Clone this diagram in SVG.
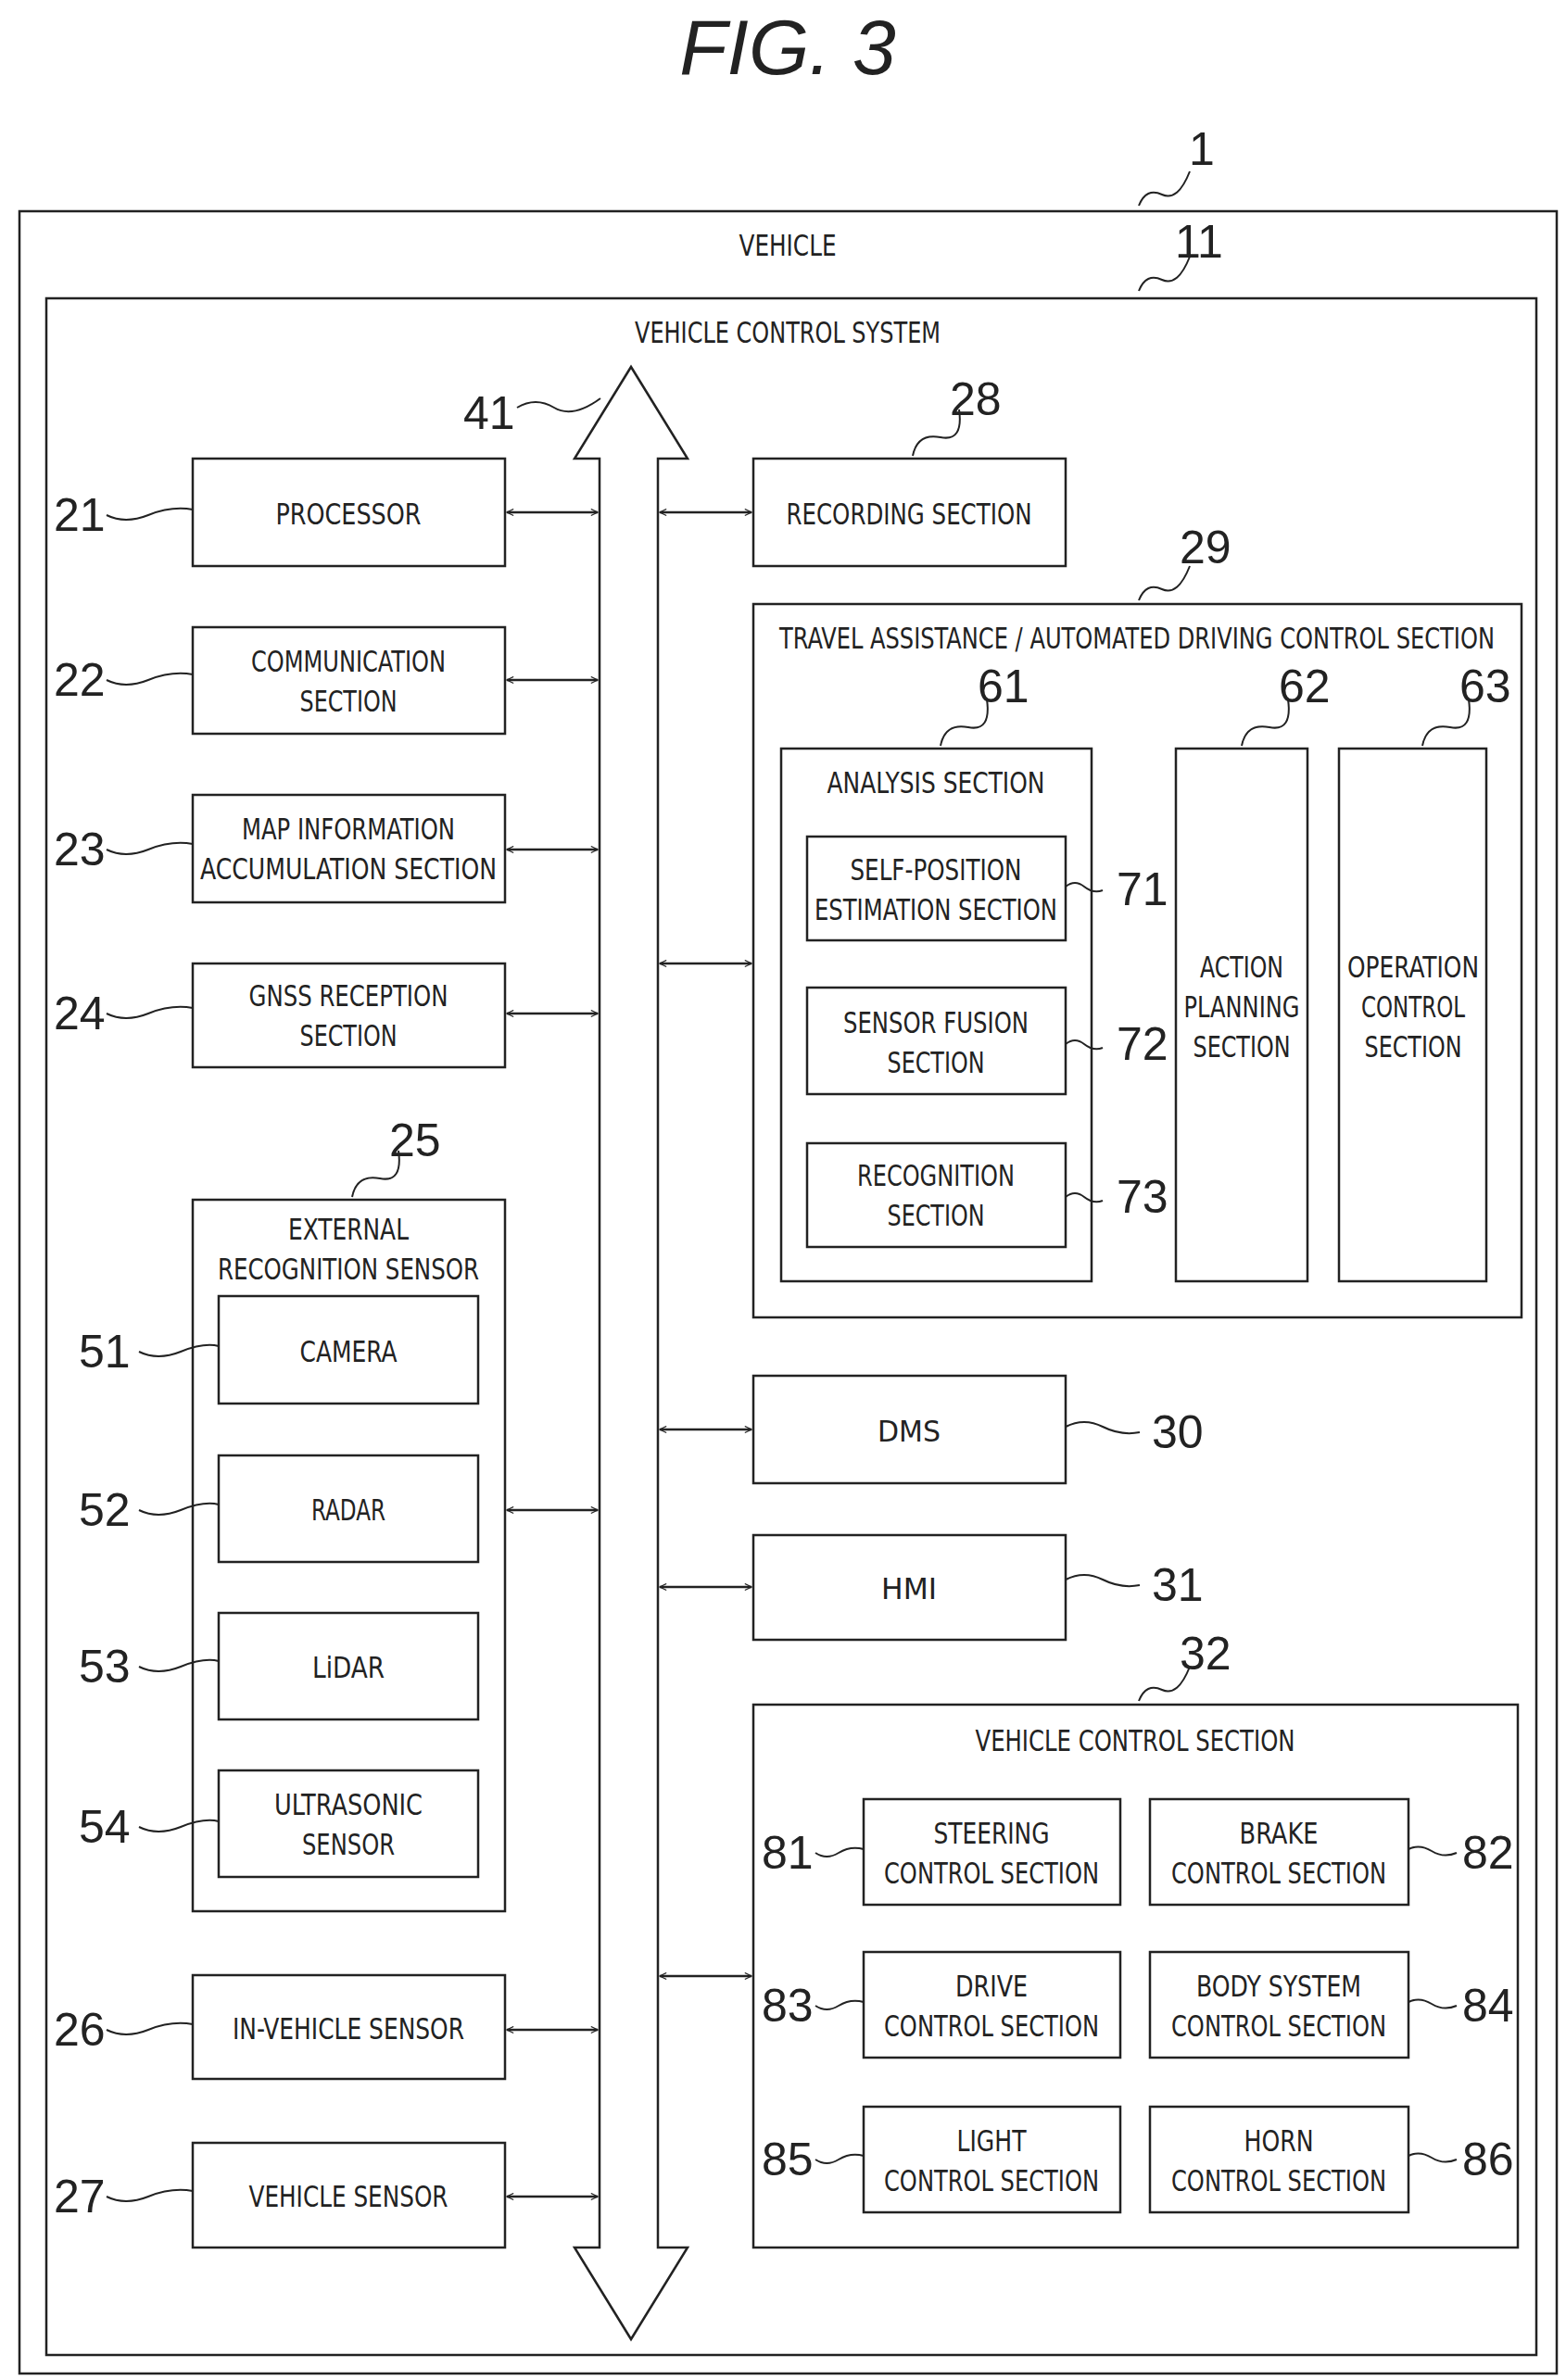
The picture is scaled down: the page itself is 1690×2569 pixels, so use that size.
<svg xmlns="http://www.w3.org/2000/svg" width="1690" height="2569" viewBox="0 0 1690 2569">
<style>
rect{fill:none;stroke:#222;stroke-width:2.5}
.t{font-family:"DejaVu Sans Condensed","DejaVu Sans",sans-serif;font-stretch:condensed;font-size:32px;fill:#222;text-anchor:middle}
.n{font-family:"Liberation Sans",sans-serif;font-size:50px;fill:#222}
.s{fill:none;stroke:#222;stroke-width:2}
.a{fill:none;stroke:#222;stroke-width:2.5;marker-start:url(#h);marker-end:url(#h)}
</style>
<defs><marker id="h" viewBox="0 0 20 20" refX="18" refY="10" markerWidth="9" markerHeight="9" markerUnits="userSpaceOnUse" orient="auto-start-reverse"><path d="M2 2 L18 10 L2 18" fill="none" stroke="#222" stroke-width="2.5"/></marker></defs>
<rect width="1690" height="2569" style="fill:#fff;stroke:none"/>
<text x="850" y="80" style="font-family:'Liberation Sans',sans-serif;font-size:84px;font-style:italic;fill:#222;text-anchor:middle">FIG. 3</text>
<g id="vehicle"><rect x="21" y="228" width="1659" height="2334"/><text class="t" x="850" y="276" textLength="105" lengthAdjust="spacingAndGlyphs">VEHICLE</text>
<path class="s" d="M1229 222 q8-20 25-12 t30-25"/><text class="n" x="1283" y="178">1</text></g>
<g id="vcs"><rect x="50" y="322" width="1608" height="2220"/><text class="t" x="850" y="370" textLength="330" lengthAdjust="spacingAndGlyphs">VEHICLE CONTROL SYSTEM</text>
<path class="s" d="M1229 314 q8-20 25-12 t30-25"/><text class="n" x="1268" y="278">11</text></g>
<g id="bus41"><path d="M647 495 L620 495 L681 396 L742 495 L710 495 L710 2426 L742 2426 L681 2525 L620 2426 L647 2426 Z" fill="#fff" stroke="#222" stroke-width="2.5"/>
<path class="s" d="M558 440 q20-12 40 0 t50-10"/><text class="n" x="500" y="463">41</text></g>
<g id="n21"><rect x="208" y="495" width="337" height="116"/><text class="t" x="376" y="566" textLength="157" lengthAdjust="spacingAndGlyphs">PROCESSOR</text><path class="s" d="M115 556 q20 10 45 0 t48-6"/><text class="n" x="58" y="573">21</text></g>
<g id="n22"><rect x="208" y="677" width="337" height="115"/><text class="t" x="376" y="725" textLength="210" lengthAdjust="spacingAndGlyphs">COMMUNICATION</text><text class="t" x="376" y="768" textLength="105" lengthAdjust="spacingAndGlyphs">SECTION</text><path class="s" d="M115 734 q20 10 45 0 t48-6"/><text class="n" x="58" y="751">22</text></g>
<g id="n23"><rect x="208" y="858" width="337" height="116"/><text class="t" x="376" y="906" textLength="230" lengthAdjust="spacingAndGlyphs">MAP INFORMATION</text><text class="t" x="376" y="949" textLength="320" lengthAdjust="spacingAndGlyphs">ACCUMULATION SECTION</text><path class="s" d="M115 917 q20 10 45 0 t48-6"/><text class="n" x="58" y="934">23</text></g>
<g id="n24"><rect x="208" y="1040" width="337" height="112"/><text class="t" x="376" y="1086" textLength="215" lengthAdjust="spacingAndGlyphs">GNSS RECEPTION</text><text class="t" x="376" y="1129" textLength="105" lengthAdjust="spacingAndGlyphs">SECTION</text><path class="s" d="M115 1094 q20 10 45 0 t48-6"/><text class="n" x="58" y="1111">24</text></g>
<g id="n25"><rect x="208" y="1295" width="337" height="768"/><text class="t" x="376" y="1338" textLength="130" lengthAdjust="spacingAndGlyphs">EXTERNAL</text><text class="t" x="376" y="1381" textLength="282" lengthAdjust="spacingAndGlyphs">RECOGNITION SENSOR</text><path class="s" d="M380 1292 q5-25 30-20 t20-30"/><text class="n" x="420" y="1248">25</text></g>
<g id="n51"><rect x="236" y="1399" width="280" height="116"/><text class="t" x="376" y="1470" textLength="105" lengthAdjust="spacingAndGlyphs">CAMERA</text><path class="s" d="M150 1459 q20 10 45 0 t41-6"/><text class="n" x="85" y="1476">51</text></g>
<g id="n52"><rect x="236" y="1571" width="280" height="115"/><text class="t" x="376" y="1641" textLength="80" lengthAdjust="spacingAndGlyphs">RADAR</text><path class="s" d="M150 1630 q20 10 45 0 t41-6"/><text class="n" x="85" y="1647">52</text></g>
<g id="n53"><rect x="236" y="1741" width="280" height="115"/><text class="t" x="376" y="1811" textLength="78" lengthAdjust="spacingAndGlyphs">LiDAR</text><path class="s" d="M150 1799 q20 10 45 0 t41-6"/><text class="n" x="85" y="1816">53</text></g>
<g id="n54"><rect x="236" y="1911" width="280" height="115"/><text class="t" x="376" y="1959" textLength="160" lengthAdjust="spacingAndGlyphs">ULTRASONIC</text><text class="t" x="376" y="2002" textLength="100" lengthAdjust="spacingAndGlyphs">SENSOR</text><path class="s" d="M150 1972 q20 10 45 0 t41-6"/><text class="n" x="85" y="1989">54</text></g>
<g id="n26"><rect x="208" y="2132" width="337" height="112"/><text class="t" x="376" y="2201" textLength="250" lengthAdjust="spacingAndGlyphs">IN-VEHICLE SENSOR</text><path class="s" d="M115 2191 q20 10 45 0 t48-6"/><text class="n" x="58" y="2208">26</text></g>
<g id="n27"><rect x="208" y="2313" width="337" height="113"/><text class="t" x="376" y="2382" textLength="215" lengthAdjust="spacingAndGlyphs">VEHICLE SENSOR</text><path class="s" d="M115 2371 q20 10 45 0 t48-6"/><text class="n" x="58" y="2388">27</text></g>
<g id="n28"><rect x="813" y="495" width="337" height="116"/><text class="t" x="981" y="566" textLength="265" lengthAdjust="spacingAndGlyphs">RECORDING SECTION</text><path class="s" d="M985 492 q5-25 30-20 t20-30"/><text class="n" x="1025" y="448">28</text></g>
<g id="n29"><rect x="813" y="652" width="829" height="770"/><text class="t" x="1227" y="700" textLength="772" lengthAdjust="spacingAndGlyphs">TRAVEL ASSISTANCE / AUTOMATED DRIVING CONTROL SECTION</text><path class="s" d="M1229 648 q8-20 25-12 t30-25"/><text class="n" x="1273" y="608">29</text></g>
<g id="n61"><rect x="843" y="808" width="335" height="575"/><text class="t" x="1010" y="856" textLength="235" lengthAdjust="spacingAndGlyphs">ANALYSIS SECTION</text><path class="s" d="M1015 805 q5-25 30-20 t20-30"/><text class="n" x="1055" y="758">61</text></g>
<g id="n62"><rect x="1269" y="808" width="142" height="575"/><text class="t" x="1340" y="1055" textLength="90" lengthAdjust="spacingAndGlyphs">ACTION</text><text class="t" x="1340" y="1098" textLength="125" lengthAdjust="spacingAndGlyphs">PLANNING</text><text class="t" x="1340" y="1141" textLength="105" lengthAdjust="spacingAndGlyphs">SECTION</text><path class="s" d="M1340 805 q5-25 30-20 t20-30"/><text class="n" x="1380" y="758">62</text></g>
<g id="n63"><rect x="1445" y="808" width="159" height="575"/><text class="t" x="1525" y="1055" textLength="142" lengthAdjust="spacingAndGlyphs">OPERATION</text><text class="t" x="1525" y="1098" textLength="112" lengthAdjust="spacingAndGlyphs">CONTROL</text><text class="t" x="1525" y="1141" textLength="105" lengthAdjust="spacingAndGlyphs">SECTION</text><path class="s" d="M1535 805 q5-25 30-20 t20-30"/><text class="n" x="1575" y="758">63</text></g>
<g id="n71"><rect x="871" y="903" width="279" height="112"/><text class="t" x="1010" y="950" textLength="185" lengthAdjust="spacingAndGlyphs">SELF-POSITION</text><text class="t" x="1010" y="993" textLength="262" lengthAdjust="spacingAndGlyphs">ESTIMATION SECTION</text><path class="s" d="M1150 957 q10-8 20 0 t20 4"/><text class="n" x="1205" y="977">71</text></g>
<g id="n72"><rect x="871" y="1066" width="279" height="115"/><text class="t" x="1010" y="1115" textLength="200" lengthAdjust="spacingAndGlyphs">SENSOR FUSION</text><text class="t" x="1010" y="1158" textLength="105" lengthAdjust="spacingAndGlyphs">SECTION</text><path class="s" d="M1150 1127 q10-8 20 0 t20 4"/><text class="n" x="1205" y="1144">72</text></g>
<g id="n73"><rect x="871" y="1234" width="279" height="112"/><text class="t" x="1010" y="1280" textLength="170" lengthAdjust="spacingAndGlyphs">RECOGNITION</text><text class="t" x="1010" y="1323" textLength="105" lengthAdjust="spacingAndGlyphs">SECTION</text><path class="s" d="M1150 1292 q10-8 20 0 t20 4"/><text class="n" x="1205" y="1309">73</text></g>
<g id="n30"><rect x="813" y="1485" width="337" height="116"/><text class="t" x="981" y="1556" textLength="68" lengthAdjust="spacingAndGlyphs">DMS</text><path class="s" d="M1150 1540 q20-10 40 0 t40 6"/><text class="n" x="1243" y="1563">30</text></g>
<g id="n31"><rect x="813" y="1657" width="337" height="113"/><text class="t" x="981" y="1726" textLength="60" lengthAdjust="spacingAndGlyphs">HMI</text><path class="s" d="M1150 1705 q20-10 40 0 t40 6"/><text class="n" x="1243" y="1728">31</text></g>
<g id="n32"><rect x="813" y="1840" width="825" height="586"/><text class="t" x="1225" y="1890" textLength="345" lengthAdjust="spacingAndGlyphs">VEHICLE CONTROL SECTION</text><path class="s" d="M1229 1836 q8-20 25-12 t30-25"/><text class="n" x="1273" y="1802">32</text></g>
<g id="n81"><rect x="932" y="1942" width="277" height="114"/><text class="t" x="1070" y="1990" textLength="125" lengthAdjust="spacingAndGlyphs">STEERING</text><text class="t" x="1070" y="2033" textLength="232" lengthAdjust="spacingAndGlyphs">CONTROL SECTION</text><path class="s" d="M880 2000 q12 8 25 0 t27-4"/><text class="n" x="822" y="2017">81</text></g>
<g id="n82"><rect x="1241" y="1942" width="279" height="114"/><text class="t" x="1380" y="1990" textLength="85" lengthAdjust="spacingAndGlyphs">BRAKE</text><text class="t" x="1380" y="2033" textLength="232" lengthAdjust="spacingAndGlyphs">CONTROL SECTION</text><path class="s" d="M1520 1996 q12-6 25 2 t27 2"/><text class="n" x="1578" y="2017">82</text></g>
<g id="n83"><rect x="932" y="2107" width="277" height="114"/><text class="t" x="1070" y="2155" textLength="78" lengthAdjust="spacingAndGlyphs">DRIVE</text><text class="t" x="1070" y="2198" textLength="232" lengthAdjust="spacingAndGlyphs">CONTROL SECTION</text><path class="s" d="M880 2165 q12 8 25 0 t27-4"/><text class="n" x="822" y="2182">83</text></g>
<g id="n84"><rect x="1241" y="2107" width="279" height="114"/><text class="t" x="1380" y="2155" textLength="178" lengthAdjust="spacingAndGlyphs">BODY SYSTEM</text><text class="t" x="1380" y="2198" textLength="232" lengthAdjust="spacingAndGlyphs">CONTROL SECTION</text><path class="s" d="M1520 2161 q12-6 25 2 t27 2"/><text class="n" x="1578" y="2182">84</text></g>
<g id="n85"><rect x="932" y="2274" width="277" height="114"/><text class="t" x="1070" y="2322" textLength="75" lengthAdjust="spacingAndGlyphs">LIGHT</text><text class="t" x="1070" y="2365" textLength="232" lengthAdjust="spacingAndGlyphs">CONTROL SECTION</text><path class="s" d="M880 2331 q12 8 25 0 t27-4"/><text class="n" x="822" y="2348">85</text></g>
<g id="n86"><rect x="1241" y="2274" width="279" height="114"/><text class="t" x="1380" y="2322" textLength="75" lengthAdjust="spacingAndGlyphs">HORN</text><text class="t" x="1380" y="2365" textLength="232" lengthAdjust="spacingAndGlyphs">CONTROL SECTION</text><path class="s" d="M1520 2327 q12-6 25 2 t27 2"/><text class="n" x="1578" y="2348">86</text></g>
<g id="connectors">
<path class="a" d="M547 553 H645"/><path class="a" d="M547 734 H645"/><path class="a" d="M547 917 H645"/><path class="a" d="M547 1094 H645"/><path class="a" d="M547 1630 H645"/><path class="a" d="M547 2191 H645"/><path class="a" d="M547 2371 H645"/>
<path class="a" d="M712 553 H811"/><path class="a" d="M712 1040 H811"/><path class="a" d="M712 1543 H811"/><path class="a" d="M712 1713 H811"/><path class="a" d="M712 2133 H811"/>
</g>
</svg>
